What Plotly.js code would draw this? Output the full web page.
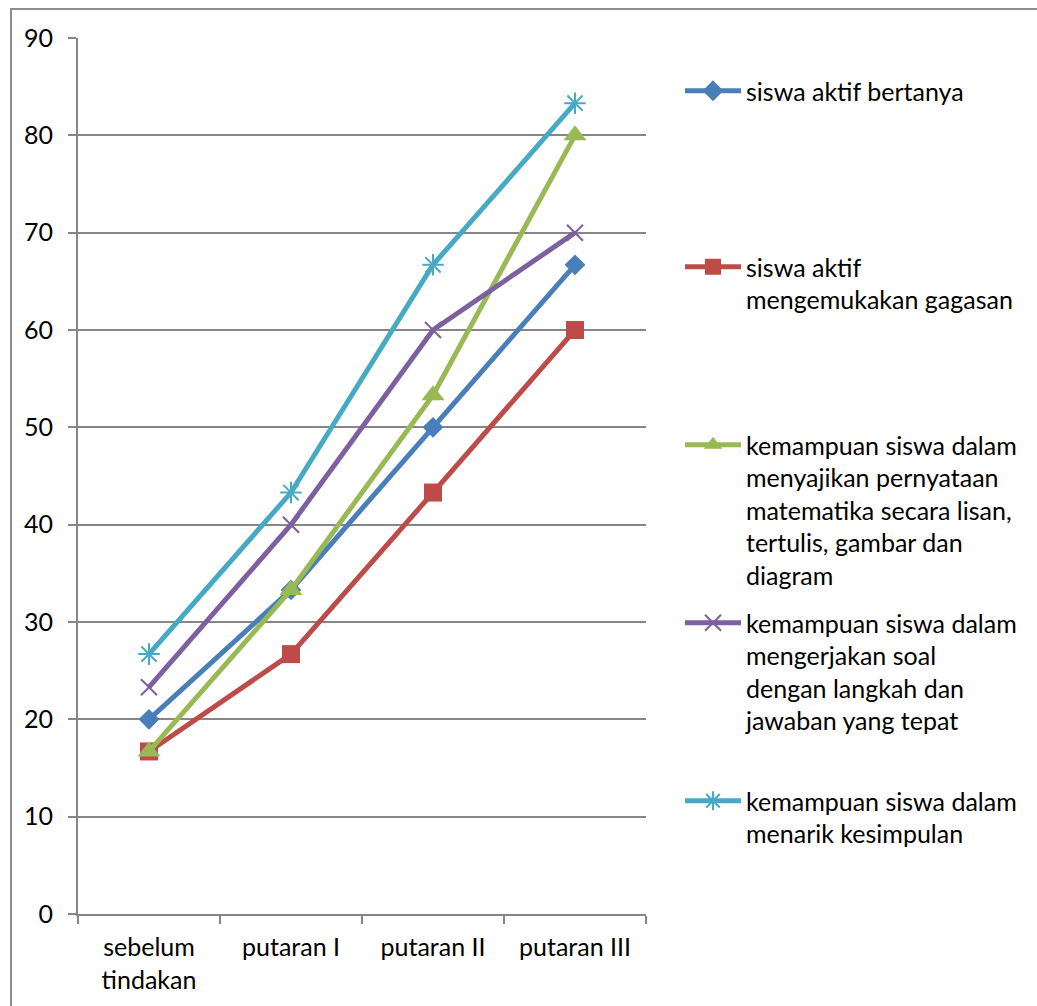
<!DOCTYPE html>
<html>
<head>
<meta charset="utf-8">
<script src="https://cdn.plot.ly/plotly-3.0.1.min.js"></script>
<style>
  html, body { margin: 0; padding: 0; background: #fff; overflow: hidden; }
  #frame { position: absolute; left: 10px; top: 8px; width: 1200px; height: 1200px;
           border-left: 2px solid #8c8c8c; border-top: 2px solid #8c8c8c; }
  #chart { position: absolute; left: 0; top: 0; width: 1037px; height: 1006px; }
</style>
</head>
<body>
<div id="frame"></div>
<div id="chart"></div>
<script>
// ---- data ----
const categories = ["sebelum<br>tindakan", "putaran I", "putaran II", "putaran III"];
const seriesNames = [
  "siswa aktif bertanya",
  "siswa aktif<br>mengemukakan gagasan",
  "kemampuan siswa dalam<br>menyajikan pernyataan<br>matematika secara lisan,<br>tertulis, gambar dan<br>diagram",
  "kemampuan siswa dalam<br>mengerjakan soal<br>dengan langkah dan<br>jawaban yang tepat",
  "kemampuan siswa dalam<br>menarik kesimpulan"
];
const bertanya   = [20, 33.3, 50, 66.7];
const gagasan    = [16.7, 26.7, 43.3, 60];
const menyajikan = [16.7, 33.3, 53.3, 80];
const mengerjakan= [23.3, 40, 60, 70];
const kesimpulan = [26.7, 43.3, 66.7, 83.3];
const yTicks = [0, 10, 20, 30, 40, 50, 60, 70, 80, 90];

// ---- styling ----
const values = [bertanya, gagasan, menyajikan, mengerjakan, kesimpulan];
const colors = ["#4A7EBB", "#BE4B48", "#98B954", "#7D60A0", "#46AAC5"];
const symbols = ["diamond", "square", "triangle-up", "x-thin-open", "asterisk-open"];
const msizes = [16, 18, 20, 16, 18];
const FONT = "Lato, 'Open Sans', sans-serif";
const FS = 25;
const W = 1037, H = 1006;
const M = {l: 78, r: W - 646, t: 38, b: H - 914};
const pw = W - M.l - M.r, ph = H - M.t - M.b;
const legendTops = [92, 268, 446, 624, 802]; // first-line centre in px
const legendKeys = ["legend", "legend2", "legend3", "legend4", "legend5"];

const traces = values.map((v, i) => ({
  type: "scatter",
  mode: "lines+markers",
  x: categories,
  y: v,
  name: seriesNames[i],
  legend: legendKeys[i],
  line: {color: colors[i], width: 5},
  marker: {
    symbol: symbols[i],
    size: msizes[i],
    color: colors[i],
    line: {color: colors[i], width: (i >= 3 ? 2 : 0)}
  },
  cliponaxis: false
}));

const layout = {
  width: W, height: H,
  margin: M,
  paper_bgcolor: "rgba(0,0,0,0)",
  plot_bgcolor: "rgba(0,0,0,0)",
  font: {family: FONT, size: FS, color: "#000"},
  showlegend: true,
  xaxis: {
    type: "category",
    range: [-0.5, 3.5],
    tickson: "boundaries",
    ticks: "outside", ticklen: 8, tickwidth: 2, tickcolor: "#868686",
    showline: true, linecolor: "#868686", linewidth: 2,
    showgrid: false, zeroline: false,
    ticklabelstandoff: 10,
    tickfont: {family: FONT, size: FS, color: "#000"},
    fixedrange: true
  },
  yaxis: {
    range: [0, 90],
    tickvals: yTicks,
    ticktext: yTicks.map(String),
    ticks: "outside", ticklen: 8, tickwidth: 2, tickcolor: "#868686",
    showline: true, linecolor: "#868686", linewidth: 2,
    showgrid: true, gridcolor: "#868686", gridwidth: 2,
    zeroline: false,
    ticklabelstandoff: 10,
    tickfont: {family: FONT, size: FS, color: "#000"},
    fixedrange: true
  }
};

legendKeys.forEach((k, i) => {
  layout[k] = {
    x: (680 - M.l) / pw,
    xanchor: "left",
    y: 1 - (legendTops[i] - 24 - M.t) / ph,
    yanchor: "top",
    valign: "top",
    bgcolor: "rgba(0,0,0,0)",
    borderwidth: 0,
    itemwidth: 56,
    font: {family: FONT, size: FS, color: "#000"}
  };
});

Plotly.newPlot("chart", traces, layout, {displayModeBar: false, staticPlot: true});
</script>
</body>
</html>
